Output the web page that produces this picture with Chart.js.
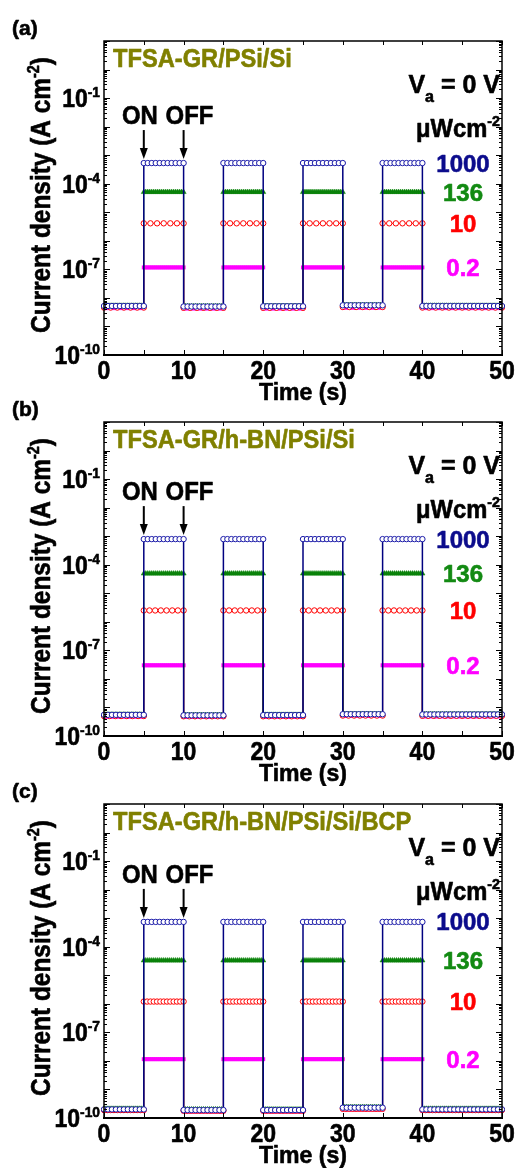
<!DOCTYPE html>
<html>
<head>
<meta charset="utf-8">
<script src="https://cdn.jsdelivr.net/npm/chart.js@4.4.1/dist/chart.umd.min.js"></script>
<style>
  body { margin: 0; background: #fff; width: 518px; height: 1170px; overflow: hidden; position: relative; }
  canvas { position: absolute; left: 0; }
</style>
</head>
<body>
<canvas id="pa" width="518" height="405" style="top:0px"></canvas>
<canvas id="pb" width="518" height="405" style="top:381px"></canvas>
<canvas id="pc" width="518" height="405" style="top:763px"></canvas>
<script>
// light switched ON at 5, 15, 25, 35 s and OFF at 10, 20, 30, 40 s
const edges = [0, 5, 10, 15, 20, 25, 30, 35, 40, 50];
const intensities = ["1000", "136", "10", "0.2"];   // uW cm^-2
const xTicks = [0, 10, 20, 30, 40, 50];
const yTickExp = [-1, -4, -7, -10];

// current density (A cm^-2) per segment: off, on, off, on, off, on, off, on, off
// (a) TFSA-GR/PSi/Si
const a1000 = [5.2e-9, 5.3e-4, 5.0e-9, 5.3e-4, 5.1e-9, 5.3e-4, 5.5e-9, 5.3e-4, 5.2e-9];
const a136 = [5.3e-9, 5.1e-5, 5.1e-9, 5.1e-5, 5.2e-9, 5.1e-5, 5.6e-9, 5.1e-5, 5.3e-9];
const a10 = [4.6e-9, 4.1e-6, 4.5e-9, 4.1e-6, 4.5e-9, 4.1e-6, 4.8e-9, 4.1e-6, 4.6e-9];
const a02 = [4.4e-9, 1.17e-7, 4.3e-9, 1.17e-7, 4.3e-9, 1.17e-7, 4.6e-9, 1.17e-7, 4.4e-9];
// (b) TFSA-GR/h-BN/PSi/Si
const b1000 = [5.5e-10, 7.9e-4, 5.3e-10, 7.9e-4, 5.4e-10, 7.9e-4, 5.8e-10, 7.9e-4, 5.7e-10];
const b136 = [5.6e-10, 4.9e-5, 5.4e-10, 4.9e-5, 5.5e-10, 4.9e-5, 5.9e-10, 4.9e-5, 5.8e-10];
const b10 = [5.0e-10, 2.5e-6, 4.9e-10, 2.5e-6, 4.9e-10, 2.5e-6, 5.2e-10, 2.5e-6, 5.1e-10];
const b02 = [4.8e-10, 3.0e-8, 4.7e-10, 3.0e-8, 4.7e-10, 3.0e-8, 5.0e-10, 3.0e-8, 4.9e-10];
// (c) TFSA-GR/h-BN/PSi/Si/BCP
const c1000 = [2.0e-10, 7.4e-4, 1.9e-10, 7.4e-4, 1.9e-10, 7.4e-4, 2.3e-10, 7.4e-4, 2.0e-10];
const c136 = [2.1e-10, 3.3e-5, 2.0e-10, 3.3e-5, 2.0e-10, 3.3e-5, 2.4e-10, 3.3e-5, 2.1e-10];
const c10 = [1.9e-10, 1.2e-6, 1.8e-10, 1.2e-6, 1.8e-10, 1.2e-6, 2.1e-10, 1.2e-6, 1.9e-10];
const c02 = [1.8e-10, 1.15e-8, 1.7e-10, 1.15e-8, 1.7e-10, 1.15e-8, 2.0e-10, 1.15e-8, 1.8e-10];

const FONT = '"Liberation Sans", Arial, Helvetica, sans-serif';
const colors = {
  blue: "#000080", blueMark: "#1a1aa8", green: "#0a820a", red: "#ff0000", magenta: "#ff00ff",
  label1000: "#0c0c8c", label136: "#138a13", olive: "#808000"
};

// samples per 5 s segment -> marker density as in the figure
function stepPoints(levels, perFive) {
  const pts = [];
  for (let i = 0; i < levels.length; i++) {
    const t0 = edges[i], t1 = edges[i + 1];
    const k = Math.round((t1 - t0) / 5 * perFive);
    for (let j = 0; j <= k; j++) pts.push({ x: t0 + (t1 - t0) * j / k, y: levels[i] });
  }
  return pts;
}

// draw a run of text pieces [text, size, dy], compressed horizontally by sx
function runs(ctx, parts, x, y, align, sx, color) {
  ctx.save();
  ctx.textAlign = "left";
  ctx.textBaseline = "alphabetic";
  let w = 0;
  for (const p of parts) { ctx.font = `bold ${p[1]}px ${FONT}`; w += ctx.measureText(p[0]).width; }
  const x0 = align === "right" ? x - w * sx : align === "center" ? x - w * sx / 2 : x;
  ctx.translate(x0, y);
  ctx.scale(sx, 1);
  ctx.fillStyle = color || "#000";
  ctx.strokeStyle = color || "#000";
  ctx.lineWidth = 0.6;
  ctx.lineJoin = "round";
  let cx = 0;
  for (const p of parts) {
    ctx.font = `bold ${p[1]}px ${FONT}`;
    ctx.fillText(p[0], cx, p[2] || 0);
    ctx.strokeText(p[0], cx, p[2] || 0);
    cx += ctx.measureText(p[0]).width;
  }
  ctx.restore();
}

function line(ctx, x1, y1, x2, y2) {
  ctx.beginPath(); ctx.moveTo(x1, y1); ctx.lineTo(x2, y2); ctx.stroke();
}

const decor = {
  id: "decor",
  afterDraw(chart, args, opts) {
    const ctx = chart.ctx, a = chart.chartArea;
    const xs = chart.scales.x, ys = chart.scales.y;
    ctx.save();
    ctx.strokeStyle = "#000";

    // ticks (inside, all four sides)
    ctx.lineWidth = 1;
    for (let e = -10; e <= 1; e++) {
      for (let m = 1; m <= 9; m++) {
        const v = m * Math.pow(10, e);
        if (v > 10) break;
        const py = Math.round(ys.getPixelForValue(v)) + 0.5;
        const len = m === 1 ? 6 : 3;
        line(ctx, a.left, py, a.left + len, py);
        line(ctx, a.right, py, a.right - len, py);
      }
    }
    for (let t = 0; t <= 50; t += 5) {
      const px = Math.round(xs.getPixelForValue(t)) + 0.5;
      line(ctx, px, a.bottom, px, a.bottom - 5);
      line(ctx, px, a.top, px, a.top + 4);
    }
    // frame
    ctx.lineWidth = 1.5;
    ctx.strokeRect(a.left, a.top, a.right - a.left, a.bottom - a.top);
    ctx.lineWidth = 2;
    line(ctx, a.left - 1, a.bottom, a.right + 1, a.bottom);

    // tick labels
    for (const t of xTicks) {
      runs(ctx, [[String(t), 25]], xs.getPixelForValue(t), a.bottom + 24, "center", 0.92);
    }
    for (const e of yTickExp) {
      runs(ctx, [["10", 25], [String(e), 15, -10]], a.left - 4, ys.getPixelForValue(Math.pow(10, e)) + 9, "right", 0.92);
    }

    // axis titles
    runs(ctx, [["Time (s)", 24]], 303, a.bottom + 45, "center", 0.96);
    ctx.save();
    ctx.translate(50, (a.top + a.bottom) / 2 - 3);
    ctx.rotate(-Math.PI / 2);
    ctx.font = `bold 27px ${FONT}`;
    let w = ctx.measureText("Current density (A cm").width + ctx.measureText(")").width;
    ctx.font = `bold 16px ${FONT}`;
    w += ctx.measureText("-2").width;
    runs(ctx, [["Current density (A cm", 27], ["-2", 16, -11], [")", 27]], 0, 0, "center", 276 / w);
    ctx.restore();

    // panel letter and device name
    runs(ctx, [[opts.letter, 21]], 12, 35, "left", 1);
    runs(ctx, [[opts.title, 26]], 113, a.top + 26, "left", 0.91, colors.olive);

    // bias and intensity labels
    runs(ctx, [["V", 25], ["a", 16, 9], [" = 0 V", 25]], 500, a.top + 52, "right", 1);
    runs(ctx, [["\u03bcWcm", 25], ["-2", 15, -11]], 500, a.top + 96, "right", 0.95);
    const labelColors = [colors.label1000, colors.label136, colors.red, colors.magenta];
    opts.onLevels.forEach((v, i) => {
      runs(ctx, [[intensities[i], 24]], 463, ys.getPixelForValue(v) + 8.5, "center", 1, labelColors[i]);
    });

    // ON / OFF arrows
    const L = ys.getPixelForValue(opts.onLevels[0]);
    const xOn = xs.getPixelForValue(5), xOff = xs.getPixelForValue(10);
    runs(ctx, [["ON", 26]], xOn + 14, L - 39, "right", 0.92);
    runs(ctx, [["OFF", 26]], xOff - 18, L - 39, "left", 0.92);
    ctx.lineWidth = 2;
    ctx.fillStyle = "#000";
    for (const px of [xOn, xOff]) {
      line(ctx, px, L - 33, px, L - 13);
      ctx.beginPath();
      ctx.moveTo(px - 4, L - 15);
      ctx.lineTo(px + 4, L - 15);
      ctx.lineTo(px, L - 4);
      ctx.closePath();
      ctx.fill();
    }
    ctx.restore();
  }
};

function makePanel(id, letter, title, s1000, s136, s10, s02, redDensity) {
  const datasets = [
    { data: stepPoints(s1000, 10), borderColor: colors.blue, borderWidth: 1.5,
      pointStyle: "circle", pointRadius: 2.7, pointBorderWidth: 1,
      pointBorderColor: colors.blueMark, pointBackgroundColor: "#fff" },
    { data: stepPoints(s136, 20), borderColor: colors.green, borderWidth: 1,
      pointStyle: "triangle", pointRadius: 3, pointBorderWidth: 0.5,
      pointBorderColor: colors.green, pointBackgroundColor: colors.green },
    { data: stepPoints(s10, redDensity), borderColor: colors.red, borderWidth: 1,
      pointStyle: "circle", pointRadius: 2.7, pointBorderWidth: 1,
      pointBorderColor: colors.red, pointBackgroundColor: "#fff" },
    { data: stepPoints(s02, 20), borderColor: colors.magenta, borderWidth: 1,
      pointStyle: "rect", pointRadius: 2.8, pointBorderWidth: 0,
      pointBorderColor: colors.magenta, pointBackgroundColor: colors.magenta }
  ];
  datasets.forEach(d => { d.tension = 0; d.clip = 3; d.fill = false; });

  return new Chart(document.getElementById(id), {
    type: "line",
    data: { datasets },
    options: {
      responsive: false,
      animation: false,
      layout: { padding: { left: 104, right: 16, top: 41, bottom: 50 } },
      scales: {
        x: { type: "linear", min: 0, max: 50, display: false },
        y: { type: "logarithmic", min: 1e-10, max: 10, display: false }
      },
      plugins: {
        legend: { display: false },
        tooltip: { enabled: false },
        decor: { letter, title, onLevels: [s1000[1], s136[1], s10[1], s02[1]] }
      }
    },
    plugins: [decor]
  });
}

makePanel("pa", "(a)", "TFSA-GR/PSi/Si", a1000, a136, a10, a02, 6);
makePanel("pb", "(b)", "TFSA-GR/h-BN/PSi/Si", b1000, b136, b10, b02, 7);
makePanel("pc", "(c)", "TFSA-GR/h-BN/PSi/Si/BCP", c1000, c136, c10, c02, 12);
</script>
</body>
</html>
